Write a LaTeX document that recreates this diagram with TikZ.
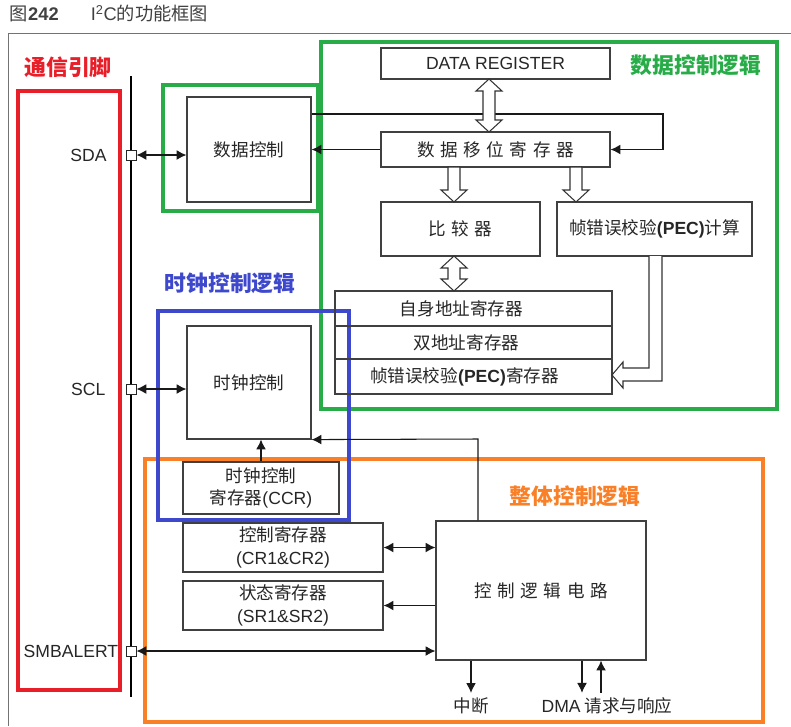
\documentclass[tikz,border=0pt]{standalone}
\usepackage{fontspec}
\setmainfont{Liberation Sans}
\newfontfamily\lat{Liberation Sans}
\newfontfamily\cjk{Noto Sans CJK SC}
\usepackage{tikz}
\usetikzlibrary{calc, positioning, arrows.meta}

\definecolor{pinred}{RGB}{232,30,40}
\definecolor{datagreen}{RGB}{40,172,72}
\definecolor{clkblue}{RGB}{62,72,204}
\definecolor{sysorange}{RGB}{250,128,40}

\newcommand{\gap}{\hspace{4pt}}
\newcommand{\fatdown}[3]{%
  \draw[fat] ({#1-6},#2) -- ({#1-6},{#3-12}) -- ({#1-13},{#3-12}) -- (#1,#3)
    -- ({#1+13},{#3-12}) -- ({#1+6},{#3-12}) -- ({#1+6},#2) -- cycle;}
\newcommand{\fatboth}[3]{%
  \draw[fat] (#1,#2) -- ({#1+13},{#2+12}) -- ({#1+6},{#2+12}) -- ({#1+6},{#3-12})
    -- ({#1+13},{#3-12}) -- (#1,#3) -- ({#1-13},{#3-12}) -- ({#1-6},{#3-12})
    -- ({#1-6},{#2+12}) -- ({#1-13},{#2+12}) -- cycle;}

\begin{document}
\begin{tikzpicture}[x=0.025cm, y=-0.025cm, >={Latex[length=7pt,width=7pt]},
    blk/.style={draw=black!75, line width=0.8pt, inner sep=0pt, align=center, text=black!85, font=\cjk\fontsize{12.5}{16}\selectfont},
    pin/.style={draw=black!85, fill=white, line width=0.7pt, minimum size=0.25cm, inner sep=0pt},
    pinlabel/.style={text=black!85, font=\lat\fontsize{12.5}{14}\selectfont},
    fat/.style={draw=black!80, line width=0.75pt, fill=white},
    wire/.style={black!90, line width=0.75pt},
    zone/.style={line width=2.2pt},
    zonelabel/.style={font=\cjk\bfseries\fontsize{15.5}{18}\selectfont},
    plain/.style={text=black!85, font=\cjk\fontsize{12.5}{15}\selectfont}]

    \useasboundingbox (0,0) rectangle (791,726);

    \node[anchor=west, text=black!75, font=\lat\fontsize{13}{16}\selectfont] (title) at (5,14)
        {{\cjk 图}\textbf{242}\hspace{0.8cm}I\textsuperscript{2}C{\cjk 的功能框图}};
    \draw[black!55, line width=0.7pt] (791,33) -- (8,33) -- (8,726);

    \draw[zone, pinred] (18,91) rectangle (120,690);
    \node[zonelabel, text=pinred] (pinlbl) at (68,67) {通信引脚};
    \draw[zone, datagreen] (163,85) rectangle (318,211);
    \draw[zone, datagreen] (321,42) rectangle (777,409);
    \node[zonelabel, text=datagreen] (datlbl) at (696,65) {数据控制逻辑};
    \draw[zone, sysorange] (145,459) rectangle (763,722);
    \node[zonelabel, text=sysorange] (syslbl) at (575,496) {整体控制逻辑};
    \draw[zone, clkblue] (158,311) rectangle (349,520);
    \node[zonelabel, text=clkblue] (clklbl) at (230,283) {时钟控制逻辑};

    \node[blk, minimum width=3.1cm, minimum height=2.625cm] (dctrl) at (249,149.5) {数据控制};
    \node[blk, minimum width=5.725cm, minimum height=0.775cm, font=\lat\fontsize{12.5}{14}\selectfont] (dreg) at (495.5,63.5) {DATA REGISTER};
    \node[blk, minimum width=5.725cm, minimum height=0.875cm] (shift) at (495.5,149.5) {数\gap 据\gap 移\gap 位\gap 寄\gap 存\gap 器};
    \node[blk, minimum width=3.975cm, minimum height=1.35cm] (cmp) at (460.5,229) {比\gap 较\gap 器};
    \node[blk, minimum width=4.875cm, minimum height=1.35cm] (pecc) at (654.5,229) {帧错误校验{\lat\bfseries (PEC)}计算};
    \node[blk, minimum width=6.925cm, minimum height=0.875cm] (own) at (473.5,308.5) {自身地址寄存器\hspace{0.6cm}};
    \node[blk, minimum width=6.925cm, minimum height=0.825cm] (dual) at (473.5,342.5) {双地址寄存器\hspace{0.35cm}};
    \node[blk, minimum width=6.925cm, minimum height=0.875cm] (pecr) at (473.5,376.5) {帧错误校验{\lat\bfseries (PEC)}寄存器\hspace{0.45cm}};
    \node[blk, minimum width=3.1cm, minimum height=2.825cm] (cctrl) at (249,382.5) {时钟控制};
    \node[blk, minimum width=3.9cm, minimum height=1.3cm] (ccr) at (261,488) {时钟控制\\寄存器{\lat (CCR)}};
    \node[blk, minimum width=5cm, minimum height=1.225cm] (cr) at (283,547.5) {控制寄存器\\{\lat (CR1\&CR2)}};
    \node[blk, minimum width=5cm, minimum height=1.225cm] (sr) at (283,605.5) {状态寄存器\\{\lat (SR1\&SR2)}};
    \node[blk, minimum width=5.25cm, minimum height=3.475cm] (logic) at (541,590.5) {控\gap 制\gap 逻\gap 辑\gap 电\gap 路};

    \coordinate (bustop) at (131,76);
    \coordinate (busbot) at (131,697);
    \draw[line width=1.6pt] (bustop) -- (busbot);
    \node[pin] (psda) at (131,155) {};
    \node[pin] (pscl) at (131,389) {};
    \node[pin] (psmb) at (131,651) {};
    \node[pinlabel, left=0.35cm of psda] (lsda) {SDA};
    \node[pinlabel, left=0.38cm of pscl] (lscl) {SCL};
    \node[pinlabel, left=0.06cm of psmb] (lsmb) {SMBALERT};

    \draw[wire, <->] (psda.east) -- (psda.east -| dctrl.west);
    \draw[wire, <->] (pscl.east) -- (pscl.east -| cctrl.west);
    \draw[wire, <->] (psmb.east) -- (psmb.east -| logic.west);

    \coordinate (loop) at (663,114);
    \draw[wire, ->] (dctrl.east |- loop) -- (loop) |- (shift.east);
    \draw[wire, ->] (shift.west) -- (shift.west -| dctrl.east);

    \coordinate (tap) at (478,439);
    \draw[wire, ->] (logic.north -| tap) -- (tap) -- (cctrl.south east);
    \draw[wire, ->] (ccr.north) -- (ccr.north |- cctrl.south);
    \draw[wire, <->] (cr.east) -- (cr.east -| logic.west);
    \draw[wire, ->] (sr.east -| logic.west) -- (sr.east);

    \node[plain] (irq) at (471,706) {中断};
    \node[plain] (dma) at (607,706) {{\lat DMA} 请求与响应};
    \coordinate (dmaout) at (582,0);
    \coordinate (dmain) at (601,0);
    \draw[wire, ->] (logic.south -| irq) -- (irq.north);
    \draw[wire, ->] (logic.south -| dmaout) -- (dma.north -| dmaout);
    \draw[wire, <-] (logic.south -| dmain) -- (dma.north -| dmain);

    \fatboth{489}{79}{132}
    \fatdown{454}{167}{202}
    \fatdown{576}{167}{202}
    \fatboth{454}{256}{291}
    \draw[fat] (649,256) -- (649,368) -- (623,368) -- (623,362) -- (612,375)
        -- (623,388) -- (623,381) -- (662,381) -- (662,256);
\end{tikzpicture}
\end{document}
